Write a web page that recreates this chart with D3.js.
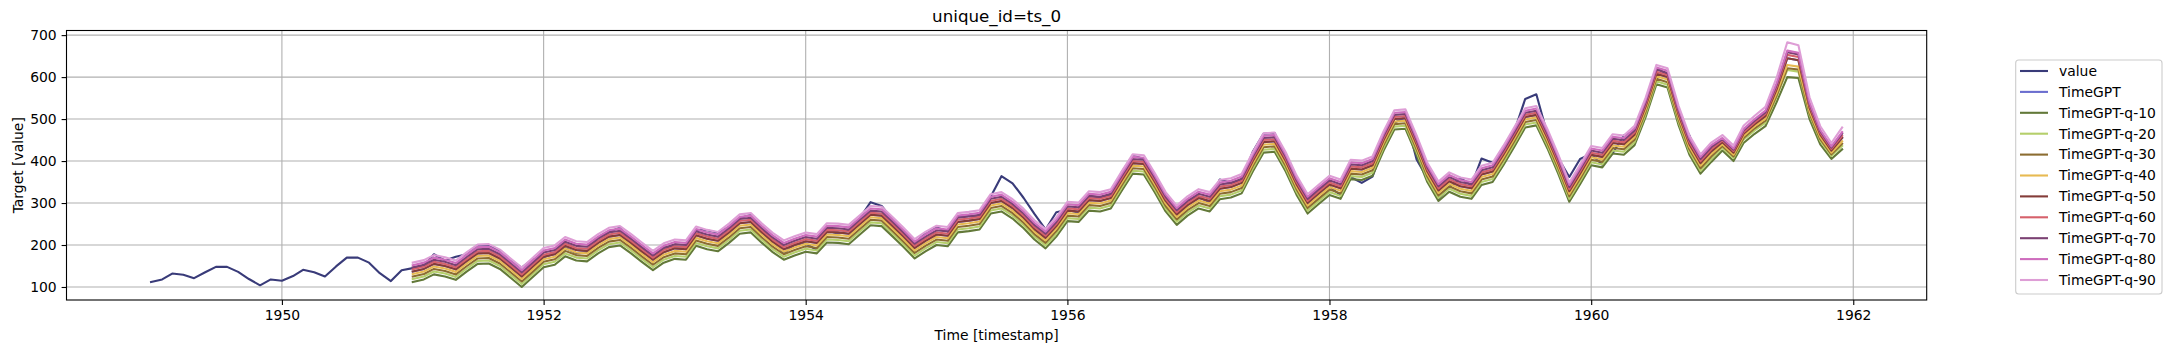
<!DOCTYPE html>
<html>
<head>
<meta charset="utf-8">
<script src="https://cdn.jsdelivr.net/npm/d3@7"></script>
<style>
  html, body { margin: 0; padding: 0; background: #ffffff; }
  svg { display: block; }
  text { font-family: "DejaVu Sans", sans-serif; }
</style>
</head>
<body>
<svg id="chart" width="2168" height="353"></svg>
<script>
// ---------------- DATA ----------------
const titleText = "unique_id=ts_0";
const xLabel = "Time [timestamp]";
const yLabel = "Target [value]";
const valueStart = "1949-01-01";
const fcStart = "1951-01-01";
const xTickYears = [1950, 1952, 1954, 1956, 1958, 1960, 1962];
const yTicks = [100, 200, 300, 400, 500, 600, 700];

const value = [
  112,118,132,129,121,135,148,148,136,119,104,118,
  115,126,141,135,125,149,170,170,158,133,114,140,
  145,150,178,163,172,178,199,199,184,162,146,166,
  171,180,193,181,183,218,230,242,209,191,172,194,
  196,196,236,235,229,243,264,272,237,211,180,201,
  204,188,235,227,234,264,302,293,259,229,203,229,
  242,233,267,269,270,315,364,347,312,274,237,278,
  284,277,317,313,318,374,413,405,355,306,271,306,
  315,301,356,348,355,422,465,467,404,347,305,336,
  340,318,362,348,363,435,491,505,404,359,310,337,
  360,342,406,396,420,472,548,559,463,407,362,405,
  417,391,419,461,472,535,622,606,508,461,390,432
];

const timegpt = [
  137,143,155,150,142,162,180,181,168,147,125,148,
  172,178,198,188,186,205,220,224,205,185,165,183,
  192,190,223,215,210,230,252,255,230,208,190,200,
  209,205,231,230,227,250,272,270,245,220,193,210,
  225,222,255,258,262,300,305,288,265,238,217,245,
  282,280,307,305,312,355,395,393,350,305,273,295,
  312,305,334,338,348,400,445,447,400,345,300,322,
  344,335,382,380,390,450,500,502,440,375,330,352,
  340,335,368,375,415,460,505,510,455,395,328,370,
  415,410,443,440,463,530,608,600,510,440,395,423,
  445,420,465,488,507,570,645,640,527,463,425,455
];

const q10 = [
  112,118,130,125,117,137,155,156,143,122,100,123,
  147,153,173,163,161,180,195,199,180,160,140,158,
  167,165,198,190,185,205,227,230,205,183,165,175,
  184,180,206,205,202,225,247,245,220,195,168,185,
  200,197,230,233,237,275,280,263,240,213,192,220,
  257,255,282,280,287,330,370,368,325,280,248,270,
  287,280,309,313,323,375,420,422,375,320,275,297,
  319,310,357,355,365,425,475,477,415,350,305,327,
  315,310,343,350,390,435,480,485,430,370,303,345,
  390,385,418,415,438,505,583,575,485,415,370,398,
  425,400,443,465,483,540,600,598,500,440,405,428
];
const q20 = [
  119,125,137,132,124,144,162,163,150,129,107,130,
  154,160,180,170,168,187,202,206,187,167,147,165,
  174,172,205,197,192,212,234,237,212,190,172,182,
  191,187,213,212,209,232,254,252,227,202,175,192,
  207,204,237,240,244,282,287,270,247,220,199,227,
  264,262,289,287,294,337,377,375,332,287,255,277,
  294,287,316,320,330,382,427,429,382,327,282,304,
  326,317,364,362,372,432,482,484,422,357,312,334,
  322,317,350,357,397,442,487,492,437,377,310,352,
  397,392,425,422,445,512,590,582,492,422,377,405,
  432,407,451,473,491,552,617,613,510,448,412,436
];
const q30 = [
  125,131,143,138,130,150,168,169,156,135,113,136,
  160,166,186,176,174,193,208,212,193,173,153,171,
  180,178,211,203,198,218,240,243,218,196,178,188,
  197,193,219,218,215,238,260,258,233,208,181,198,
  213,210,243,246,250,288,293,276,253,226,205,233,
  270,268,295,293,300,343,383,381,338,293,261,283,
  300,293,322,326,336,388,433,435,388,333,288,310,
  332,323,370,368,378,438,488,490,428,363,318,340,
  328,323,356,363,403,448,493,498,443,383,316,358,
  403,398,431,428,451,518,596,588,498,428,383,411,
  436,411,455,478,496,556,621,618,514,452,416,441
];
const q40 = [
  131,137,149,144,136,156,174,175,162,141,119,142,
  166,172,192,182,180,199,214,218,199,179,159,177,
  186,184,217,209,204,224,246,249,224,202,184,194,
  203,199,225,224,221,244,266,264,239,214,187,204,
  219,216,249,252,256,294,299,282,259,232,211,239,
  276,274,301,299,306,349,389,387,344,299,267,289,
  306,299,328,332,342,394,439,441,394,339,294,316,
  338,329,376,374,384,444,494,496,434,369,324,346,
  334,329,362,369,409,454,499,504,449,389,322,364,
  409,404,437,434,457,524,602,594,504,434,389,417,
  440,415,460,483,501,562,629,625,519,457,420,447
];
const q50 = [
  137,143,155,150,142,162,180,181,168,147,125,148,
  172,178,198,188,186,205,220,224,205,185,165,183,
  192,190,223,215,210,230,252,255,230,208,190,200,
  209,205,231,230,227,250,272,270,245,220,193,210,
  225,222,255,258,262,300,305,288,265,238,217,245,
  282,280,307,305,312,355,395,393,350,305,273,295,
  312,305,334,338,348,400,445,447,400,345,300,322,
  344,335,382,380,390,450,500,502,440,375,330,352,
  340,335,368,375,415,460,505,510,455,395,328,370,
  415,410,443,440,463,530,608,600,510,440,395,423,
  445,420,465,488,507,570,645,640,527,463,425,455
];
const q60 = [
  142,148,160,155,147,167,185,186,173,152,130,153,
  177,183,203,193,191,210,225,229,210,190,170,188,
  197,195,228,220,215,235,257,260,235,213,195,205,
  214,210,236,235,232,255,277,275,250,225,198,215,
  230,227,260,263,267,305,310,293,270,243,222,250,
  287,285,312,310,317,360,400,398,355,310,278,300,
  317,310,339,343,353,405,450,452,405,350,305,327,
  349,340,387,385,395,455,505,507,445,380,335,357,
  345,340,373,380,420,465,510,515,460,400,333,375,
  420,415,448,445,468,535,613,605,515,445,400,428,
  449,424,469,492,512,576,653,648,532,467,429,460
];
const q70 = [
  147,153,165,160,152,172,190,191,178,157,135,158,
  182,188,208,198,196,215,230,234,215,195,175,193,
  202,200,233,225,220,240,262,265,240,218,200,210,
  219,215,241,240,237,260,282,280,255,230,203,220,
  235,232,265,268,272,310,315,298,275,248,227,255,
  292,290,317,315,322,365,405,403,360,315,283,305,
  322,315,344,348,358,410,455,457,410,355,310,332,
  354,345,392,390,400,460,510,512,450,385,340,362,
  350,345,378,385,425,470,515,520,465,405,338,380,
  425,420,453,450,473,540,618,610,520,450,405,433,
  452,427,473,496,516,581,659,654,536,471,432,465
];
const q80 = [
  152,158,170,165,157,177,195,196,183,162,140,163,
  187,193,213,203,201,220,235,239,220,200,180,198,
  207,205,238,230,225,245,267,270,245,223,205,215,
  224,220,246,245,242,265,287,285,260,235,208,225,
  240,237,270,273,277,315,320,303,280,253,232,260,
  297,295,322,320,327,370,410,408,365,320,288,310,
  327,320,349,353,363,415,460,462,415,360,315,337,
  359,350,397,395,405,465,515,517,455,390,345,367,
  355,350,383,390,430,475,520,525,470,410,343,385,
  430,425,458,455,478,545,623,615,525,455,410,438,
  455,430,476,500,520,585,663,658,540,474,435,469
];
const q90 = [
  158,164,176,171,163,183,201,202,189,168,146,169,
  193,199,219,209,207,226,241,245,226,206,186,204,
  213,211,244,236,231,251,273,276,251,229,211,221,
  230,226,252,251,248,271,293,291,266,241,214,231,
  246,243,276,279,283,321,326,309,286,259,238,266,
  303,301,328,326,333,376,416,414,371,326,294,316,
  333,326,355,359,369,421,466,468,421,366,321,343,
  365,356,403,401,411,471,521,523,461,396,351,373,
  361,356,389,396,436,481,526,531,476,416,349,391,
  436,431,464,461,484,551,629,621,531,461,416,444,
  462,437,484,508,529,598,683,676,552,483,443,480
];

const seriesNames = ["value","TimeGPT","TimeGPT-q-10","TimeGPT-q-20","TimeGPT-q-30","TimeGPT-q-40","TimeGPT-q-50","TimeGPT-q-60","TimeGPT-q-70","TimeGPT-q-80","TimeGPT-q-90"];
const seriesColors = ["#393b79","#6b6ecf","#637939","#b5cf6b","#8c6d31","#e7ba52","#843c39","#d6616b","#7b4173","#ce6dbd","#de9ed6"];

// ---------------- LAYOUT ----------------
const W = 2168, H = 353;
const plot = { left: 66.5, right: 1926.7, top: 30.5, bottom: 300 };

const parse = d3.timeParse("%Y-%m-%d");
const valueDates = d3.timeMonth.range(parse(valueStart), d3.timeMonth.offset(parse(valueStart), value.length));
const fcDates = d3.timeMonth.range(parse(fcStart), d3.timeMonth.offset(parse(fcStart), timegpt.length));

const allDates = valueDates.concat(fcDates);
const [dMin, dMax] = d3.extent(allDates);
const span = dMax - dMin;
const x = d3.scaleTime()
  .domain([new Date(+dMin - span * 0.05), new Date(+dMax + span * 0.05)])
  .range([plot.left, plot.right]);

const y = d3.scaleLinear().domain([69, 711]).range([plot.bottom, plot.top]);

const svg = d3.select("#chart");
svg.append("rect").attr("width", W).attr("height", H).attr("fill", "#ffffff");

// grid
const grid = svg.append("g");
xTickYears.forEach(yr => {
  const px = x(new Date(yr, 0, 1));
  grid.append("line").attr("x1", px).attr("x2", px).attr("y1", plot.top).attr("y2", plot.bottom)
    .attr("stroke", "#b0b0b0").attr("stroke-width", 1.1);
});
yTicks.forEach(v => {
  grid.append("line").attr("x1", plot.left).attr("x2", plot.right).attr("y1", y(v)).attr("y2", y(v))
    .attr("stroke", "#b0b0b0").attr("stroke-width", 1.1);
});

// clip
svg.append("clipPath").attr("id", "clip").append("rect")
  .attr("x", plot.left).attr("y", plot.top).attr("width", plot.right - plot.left).attr("height", plot.bottom - plot.top);

const lines = svg.append("g").attr("clip-path", "url(#clip)");
const lineGen = d3.line().x(d => x(d[0])).y(d => y(d[1]));

const seriesData = [
  valueDates.map((d, i) => [d, value[i]]),
  fcDates.map((d, i) => [d, timegpt[i]]),
  fcDates.map((d, i) => [d, q10[i]]),
  fcDates.map((d, i) => [d, q20[i]]),
  fcDates.map((d, i) => [d, q30[i]]),
  fcDates.map((d, i) => [d, q40[i]]),
  fcDates.map((d, i) => [d, q50[i]]),
  fcDates.map((d, i) => [d, q60[i]]),
  fcDates.map((d, i) => [d, q70[i]]),
  fcDates.map((d, i) => [d, q80[i]]),
  fcDates.map((d, i) => [d, q90[i]])
];

seriesData.forEach((data, k) => {
  lines.append("path").datum(data)
    .attr("d", lineGen)
    .attr("fill", "none")
    .attr("stroke", seriesColors[k])
    .attr("stroke-width", 2.1)
    .attr("stroke-linejoin", "round")
    .attr("stroke-linecap", "square");
});

// axes
const xAxis = d3.axisBottom(x)
  .tickValues(xTickYears.map(yr => new Date(yr, 0, 1)))
  .tickFormat(d3.timeFormat("%Y"))
  .tickSize(4.9).tickPadding(4.9);
const gx = svg.append("g").attr("transform", `translate(0,${plot.bottom})`).call(xAxis);
gx.select(".domain").remove();
gx.selectAll("line").attr("stroke", "#000").attr("stroke-width", 1.1);
gx.selectAll("text").attr("font-size", "13.9px").attr("fill", "#000").attr("font-family", "DejaVu Sans, sans-serif");

const yAxis = d3.axisLeft(y).tickValues(yTicks).tickSize(4.9).tickPadding(4.9);
const gy = svg.append("g").attr("transform", `translate(${plot.left},0)`).call(yAxis);
gy.select(".domain").remove();
gy.selectAll("line").attr("stroke", "#000").attr("stroke-width", 1.1);
gy.selectAll("text").attr("font-size", "13.9px").attr("fill", "#000").attr("font-family", "DejaVu Sans, sans-serif");

// spines
svg.append("rect").attr("x", plot.left).attr("y", plot.top)
  .attr("width", plot.right - plot.left).attr("height", plot.bottom - plot.top)
  .attr("fill", "none").attr("stroke", "#000").attr("stroke-width", 1.1);

// title and labels
svg.append("text").attr("x", (plot.left + plot.right) / 2).attr("y", 22)
  .attr("text-anchor", "middle").attr("font-size", "16.7px").attr("fill", "#000").text(titleText);
svg.append("text").attr("x", (plot.left + plot.right) / 2).attr("y", 340)
  .attr("text-anchor", "middle").attr("font-size", "13.9px").attr("fill", "#000").text(xLabel);
svg.append("text").attr("transform", `translate(23,${(plot.top + plot.bottom) / 2}) rotate(-90)`)
  .attr("text-anchor", "middle").attr("font-size", "13.9px").attr("fill", "#000").text(yLabel);

// legend
const lg = svg.append("g");
lg.append("rect").attr("x", 2015.7).attr("y", 60).attr("width", 146.3).attr("height", 234)
  .attr("rx", 3).attr("fill", "#ffffff").attr("fill-opacity", 0.8)
  .attr("stroke", "#cccccc").attr("stroke-width", 1.1);
seriesNames.forEach((name, i) => {
  const cy = 71 + i * 20.9;
  lg.append("line").attr("x1", 2020).attr("x2", 2048).attr("y1", cy).attr("y2", cy)
    .attr("stroke", seriesColors[i]).attr("stroke-width", 2.1);
  lg.append("text").attr("x", 2059).attr("y", cy).attr("dy", "0.35em")
    .attr("font-size", "13.9px").attr("fill", "#000").text(name);
});
</script>
</body>
</html>
